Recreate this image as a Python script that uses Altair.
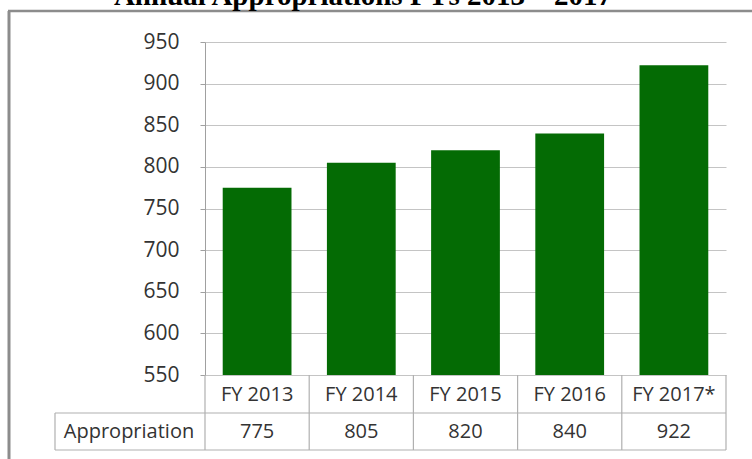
import altair as alt
import pandas as pd

categories = ["FY 2013", "FY 2014", "FY 2015", "FY 2016", "FY 2017*"]
values = [775, 805, 820, 840, 922]
y_ticks = [550, 600, 650, 700, 750, 800, 850, 900, 950]
title_text = "Annual Appropriations FYs 2013 \u2013 2017"
row_label = "Appropriation"

df = pd.DataFrame({"cat": categories, "val": values})
one = pd.DataFrame({"k": [0]})

W, H = 521, 333
FONT = "Open Sans"
GREEN = "#046b04"
TXT = "#333333"
LINE = "#b0b0b0"

xscale = alt.Scale(domain=categories, paddingInner=0, paddingOuter=0)
yscale = alt.Scale(domain=[550, 950], nice=False, zero=False)

base = alt.Chart(df)

bars = base.mark_bar(color=GREEN, width=alt.RelativeBandSize(0.66)).encode(
    x=alt.X("cat:N", scale=xscale, sort=categories, axis=None),
    y=alt.Y("val:Q", scale=yscale,
            axis=alt.Axis(values=y_ticks, title=None, grid=True, gridColor="#c4c4c4",
                          domainColor="#a0a0a0", tickColor="#a0a0a0", tickSize=5,
                          labelPadding=21, labelFont=FONT, labelFontSize=21,
                          labelColor=TXT)),
    y2=alt.datum(550),
)

cat_text = base.mark_text(font=FONT, fontSize=20, color=TXT, baseline="middle").encode(
    x=alt.X("cat:N", scale=xscale, sort=categories, bandPosition=0.5),
    y=alt.value(H + 20),
    text="cat:N",
)

val_text = base.mark_text(font=FONT, fontSize=20, color=TXT, baseline="middle").encode(
    x=alt.X("cat:N", scale=xscale, sort=categories, bandPosition=0.5),
    y=alt.value(H + 57),
    text="val:Q",
)

dividers = base.mark_rule(color=LINE, strokeWidth=1.2).encode(
    x=alt.X("cat:N", scale=xscale, sort=categories, bandPosition=0),
    y=alt.value(H),
    y2=alt.value(H + 75),
)

o = alt.Chart(one)
right_div = o.mark_rule(color=LINE, strokeWidth=1.2).encode(
    x=alt.value(W), y=alt.value(H), y2=alt.value(H + 75))
hline1 = o.mark_rule(color=LINE, strokeWidth=1.2).encode(
    x=alt.value(-150), x2=alt.value(W), y=alt.value(H + 38))
hline2 = o.mark_rule(color=LINE, strokeWidth=1.2).encode(
    x=alt.value(-150), x2=alt.value(W), y=alt.value(H + 75))
lcell = o.mark_rule(color=LINE, strokeWidth=1.2).encode(
    x=alt.value(-150), y=alt.value(H + 38), y2=alt.value(H + 75))
label = o.mark_text(font=FONT, fontSize=20, color=TXT, baseline="middle", align="center").encode(
    x=alt.value(-76), y=alt.value(H + 57), text=alt.value(row_label))

top_border = o.mark_rule(color="#8c8c8c", strokeWidth=2.5).encode(
    x=alt.value(-197), x2=alt.value(550), y=alt.value(-31))
left_border = o.mark_rule(color="#8c8c8c", strokeWidth=3).encode(
    x=alt.value(-196), y=alt.value(-31), y2=alt.value(430))

title = o.mark_text(font="Liberation Serif", fontWeight="bold", fontSize=29, color="#000000",
                    baseline="alphabetic", align="center").encode(
    x=alt.value(158), y=alt.value(-37), text=alt.value(title_text))

chart = alt.layer(
    top_border, left_border, bars, dividers, right_div, hline1, hline2, lcell,
    cat_text, val_text, label, title
).properties(
    width=W, height=H,
    autosize=alt.AutoSizeParams(type="none"),
    padding={"left": 205, "top": 42, "right": 26, "bottom": 84},
    background="white",
).configure_view(stroke=None)

chart.save("out.html", embed_options={"renderer": "svg", "actions": False})
